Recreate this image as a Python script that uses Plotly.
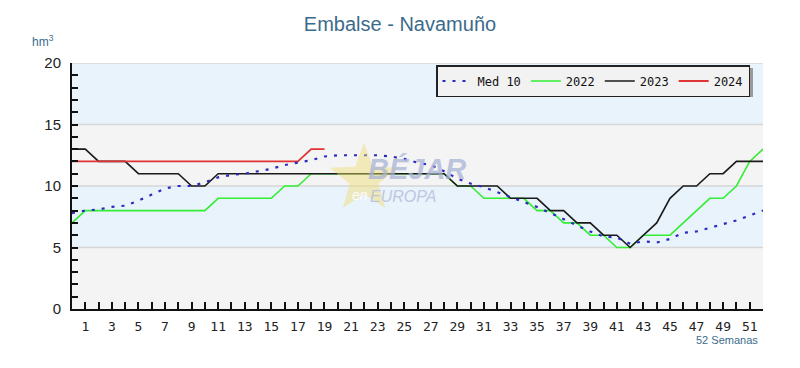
import plotly.graph_objects as go
import math

weeks = list(range(0, 53))

med10 = [7.8, 8.0, 8.1, 8.3, 8.4, 8.8, 9.3, 9.8, 10.0, 10.0, 10.3, 10.7, 10.9,
         11.0, 11.2, 11.4, 11.7, 11.9, 12.1, 12.4, 12.5, 12.5, 12.5, 12.5, 12.4,
         12.2, 11.9, 11.7, 11.2, 10.6, 10.2, 9.9, 9.5, 9.1, 8.7, 8.3, 7.8, 7.3,
         6.8, 6.3, 5.9, 5.8, 5.3, 5.5, 5.4, 5.7, 6.2, 6.3, 6.6, 6.9, 7.2, 7.6, 8.0]

y2022 = [7, 8, 8, 8, 8, 8, 8, 8, 8, 8, 8, 9, 9, 9, 9, 9, 10, 10, 11, 11, 11, 11,
         11, 11, 11, 11, 11, 11, 11, 10, 10, 9, 9, 9, 9, 8, 8, 7, 7, 6, 6, 5, 5,
         6, 6, 6, 7, 8, 9, 9, 10, 12, 13]

y2023 = [13, 13, 12, 12, 12, 11, 11, 11, 11, 10, 10, 11, 11, 11, 11, 11, 11, 11,
         11, 11, 11, 11, 11, 11, 11, 11, 11, 11, 11, 10, 10, 10, 10, 9, 9, 9, 8,
         8, 7, 7, 6, 6, 5, 6, 7, 9, 10, 10, 11, 11, 12, 12, 12]

y2024 = [12, 12, 12, 12, 12, 12, 12, 12, 12, 12, 12, 12, 12, 12, 12, 12, 12, 12,
         13, 13]

series_names = ["Med 10", "2022", "2023", "2024"]
x_tick_labels = [str(w) for w in range(1, 52, 2)]
y_tick_vals = [0, 5, 10, 15, 20]

TITLE_COLOR = "#3b6b8c"
fig = go.Figure()

fig.add_trace(go.Scatter(x=weeks, y=y2022, mode="lines", name=series_names[1],
                         line=dict(color="#33ee33", width=1.6), legendrank=2))
fig.add_trace(go.Scatter(x=weeks, y=y2023, mode="lines", name=series_names[2],
                         line=dict(color="#1a1a1a", width=1.6), legendrank=3))
fig.add_trace(go.Scatter(x=weeks[:len(y2024)], y=y2024, mode="lines", name=series_names[3],
                         line=dict(color="#e03333", width=1.8), legendrank=4))
fig.add_trace(go.Scatter(x=weeks, y=med10, mode="lines", name=series_names[0],
                         line=dict(color="#2b2bc0", width=2.2, dash="3px,7px"), legendrank=1))

# background bands
shapes = []
band_colors = ["#f4f4f4", "#e9f3fb", "#f4f4f4", "#e9f3fb"]
for i, c in enumerate(band_colors):
    shapes.append(dict(type="rect", xref="x", yref="y", x0=0, x1=52, y0=i * 5, y1=i * 5 + 5,
                       fillcolor=c, line=dict(width=0), layer="below"))
for v in [5, 10, 15, 20]:
    shapes.append(dict(type="line", xref="x", yref="y", x0=0, x1=52, y0=v, y1=v,
                       line=dict(color="#d6d6d6", width=1.5), layer="below"))


def px(xp):
    return (xp - 72) / 691


def py(yp):
    return (309 - yp) / 246


# watermark star
cx, cy, R, r = 364, 179, 36, 15
pts = []
for k in range(10):
    ang = math.pi / 2 + k * math.pi / 5
    rad = R if k % 2 == 0 else r
    pts.append((cx + rad * math.cos(ang), cy - rad * math.sin(ang)))
path = "M " + " L ".join(f"{px(a):.4f},{py(b):.4f}" for a, b in pts) + " Z"
shapes.append(dict(type="path", xref="paper", yref="paper", path=path,
                   fillcolor="rgba(240,220,110,0.45)", line=dict(width=0), layer="above"))

# legend shadow
shapes.append(dict(type="rect", xref="paper", yref="paper",
                   x0=px(459), x1=px(753), y0=py(97), y1=py(68),
                   fillcolor="#9a9a9a", line=dict(width=0), layer="above"))

annotations = [
    dict(text="hm<sup>3</sup>", xref="paper", yref="paper", x=px(30), y=py(41),
         xanchor="left", yanchor="middle", showarrow=False,
         font=dict(family="Arial, Liberation Sans", size=12, color=TITLE_COLOR)),
    dict(text="52 Semanas", xref="paper", yref="paper", x=px(760), y=py(340),
         xanchor="right", yanchor="middle", showarrow=False,
         font=dict(family="Arial, Liberation Sans", size=11, color=TITLE_COLOR)),
    dict(text="<b><i>BÉJAR</i></b>", xref="paper", yref="paper", x=px(366), y=py(169),
         xanchor="left", yanchor="middle", showarrow=False, opacity=0.75,
         font=dict(family="Arial, Liberation Sans", size=29, color="#a9b3d6")),
    dict(text="<i>en</i>", xref="paper", yref="paper", x=px(350), y=py(195),
         xanchor="left", yanchor="middle", showarrow=False, opacity=0.9,
         font=dict(family="Arial, Liberation Sans", size=14, color="#ffffff")),
    dict(text="<i>EUROPA</i>", xref="paper", yref="paper", x=px(368), y=py(196),
         xanchor="left", yanchor="middle", showarrow=False, opacity=0.75,
         font=dict(family="Arial, Liberation Sans", size=16, color="#b0b8da")),
]

fig.update_layout(
    width=800, height=368,
    margin=dict(l=72, r=37, t=63, b=59),
    paper_bgcolor="white", plot_bgcolor="white",
    title=dict(text="Embalse - Navamuño", x=0.5, xanchor="center", y=0.935, yanchor="middle",
               font=dict(family="Arial, Liberation Sans", size=20, color=TITLE_COLOR)),
    shapes=shapes, annotations=annotations,
    showlegend=True,
    legend=dict(orientation="h", x=px(750), y=py(65), xanchor="right", yanchor="top",
                bgcolor="#f2f2f2", bordercolor="#222222", borderwidth=1.5,
                font=dict(family="DejaVu Sans Mono", size=12, color="#111111"),
                itemwidth=30, tracegroupgap=0),
)

fig.update_xaxes(range=[0, 52], tickmode="array",
                 tickvals=list(range(1, 52, 2)), ticktext=x_tick_labels,
                 ticks="inside", ticklen=7, tickwidth=1.5, tickcolor="#111",
                 minor=dict(dtick=1, tick0=0, ticks="inside", ticklen=7, tickwidth=1.5, tickcolor="#111"),
                 showline=True, linecolor="#111", linewidth=2, showgrid=False, zeroline=False,
                 tickfont=dict(family="DejaVu Sans Mono", size=13, color="#222"),
                 ticklabelstandoff=4)
fig.update_yaxes(range=[0, 20], tickmode="array", tickvals=y_tick_vals,
                 ticks="inside", ticklen=6, tickwidth=1.5, tickcolor="#111",
                 minor=dict(dtick=1, tick0=0, ticks="inside", ticklen=6, tickwidth=1.5, tickcolor="#111"),
                 showline=True, linecolor="#111", linewidth=2, showgrid=False, zeroline=False,
                 tickfont=dict(family="Arial, Liberation Sans", size=15, color="#222"),
                 ticklabelstandoff=6)

fig.write_html("out.html", config={"displayModeBar": False},
               post_script="document.body.style.margin='0';document.body.style.padding='0';")
